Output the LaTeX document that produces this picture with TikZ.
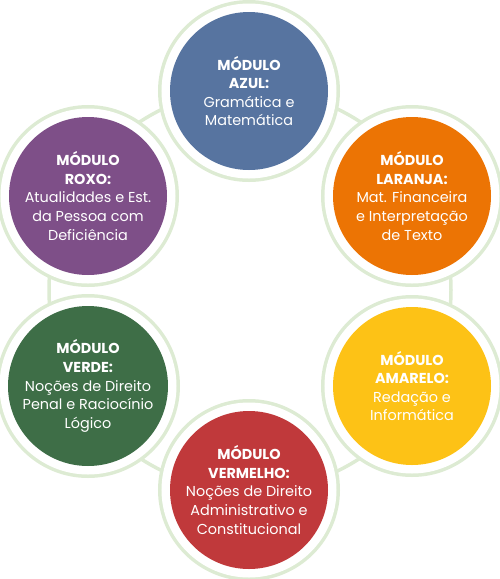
\documentclass[tikz,border=0pt]{standalone}
\usepackage{fontspec}
\setmainfont{Poppins}
\usepackage{tikz}
\usetikzlibrary{positioning}

\definecolor{ringgreen}{HTML}{DDEBD3}
\definecolor{azulmod}{HTML}{5774A0}
\definecolor{roxomod}{HTML}{7E4F88}
\definecolor{laranjamod}{HTML}{EC7404}
\definecolor{verdemod}{HTML}{3E6E47}
\definecolor{amarelomod}{HTML}{FDC216}
\definecolor{vermelhomod}{HTML}{C0393B}

\tikzset{
  modulo/.style={circle,inner sep=0pt,minimum size=158pt,fill=#1,text=white,
    align=center,font=\fontsize{14.4}{18.6}\selectfont,
    preaction={draw=ringgreen,line width=24pt},
    preaction={draw=white,line width=17pt}},
  ring/.style={draw=ringgreen,line width=3.5pt}
}
\newcommand{\cabeca}[1]{\textbf{#1}}

\begin{document}
\begin{tikzpicture}[x=1pt,y=-1pt]
  \useasboundingbox (0,0) rectangle (500,579);
  % Background ring linking the six modules
  \draw[ring] (250,290) circle[radius=201];
  % Modules
  \node[modulo=azulmod] (azul) at (249,91)
    {\cabeca{MÓDULO}\\\cabeca{AZUL:}\\Gramática e\\Matemática};
  \node[modulo=laranjamod] (laranja) at (412,196)
    {\cabeca{MÓDULO}\\\cabeca{LARANJA:}\\Mat. Financeira\\e Interpretação\\de Texto};
  \node[modulo=amarelomod] (amarelo) at (412,386)
    {\cabeca{MÓDULO}\\\cabeca{AMARELO:}\\Redação e\\Informática};
  \node[modulo=vermelhomod] (vermelho) at (249,490)
    {\cabeca{MÓDULO}\\\cabeca{VERMELHO:}\\Noções de Direito\\Administrativo e\\Constitucional};
  \node[modulo=verdemod] (verde) at (88,386)
    {\cabeca{MÓDULO}\\\cabeca{VERDE:}\\Noções de Direito\\Penal e Raciocínio\\Lógico};
  \node[modulo=roxomod] (roxo) at (88,196)
    {\cabeca{MÓDULO}\\\cabeca{ROXO:}\\Atualidades e Est.\\da Pessoa com\\Deficiência};
\end{tikzpicture}
\end{document}
